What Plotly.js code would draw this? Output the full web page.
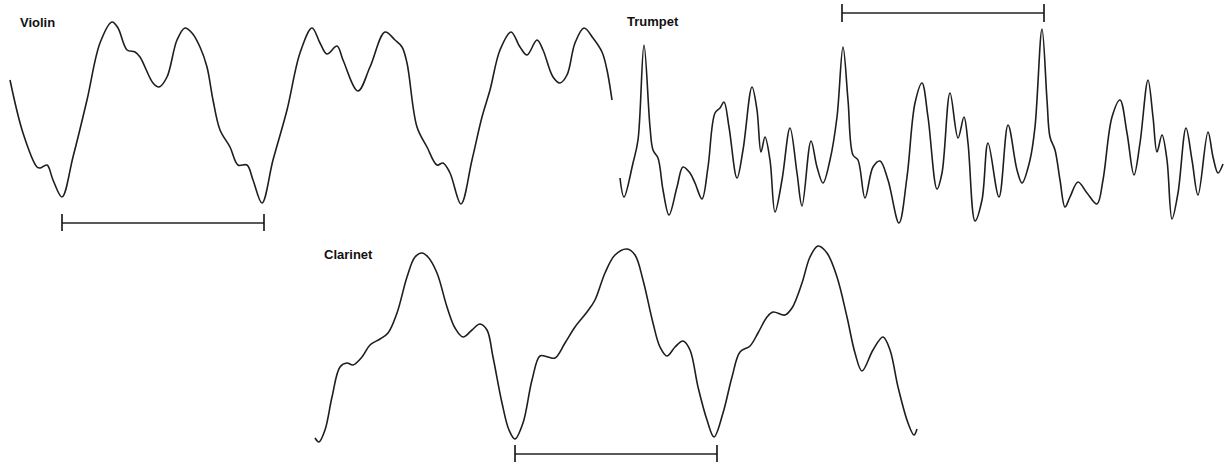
<!DOCTYPE html>
<html>
<head>
<meta charset="utf-8">
<script src="https://cdn.plot.ly/plotly-3.0.1.min.js"></script>
<style>html,body{margin:0;padding:0;background:#fff;}#chart{width:1229px;height:462px;}</style>
</head>
<body>
<div id="chart"></div>
<script>
// Violin waveform (time units, amplitude units)
const violinTime = [10,23,37,40,47,53,62,73,87,100,112,118,127,135,140,153,159,167,177,185,192,200,207,213,220,230,238,247,253,262,273,287,300,312,320,327,337,343,358,370,385,395,402,407,417,427,437,443,450,461,472,482,490,500,511,520,527,537,543,553,560,567,575,584,593,602,607,612];
const violinAmp  = [151,98,64,63,66,51,34,74,131,188,209,203,181,179,174,148,144,154,191,203,198,184,164,131,101,84,66,66,51,28,71,121,178,203,188,177,185,171,140,164,199,191,184,168,104,84,66,68,58,27,71,114,141,181,199,184,176,191,181,154,148,156,188,203,193,179,161,131];

// Trumpet waveform
const trumpetTime = [5,9,18,23,29,35,38,43,48,54,62,68,75,80,87,93,100,105,109,114,122,128,137,142,146,150,155,160,167,175,182,187,196,202,208,215,222,228,233,238,243,250,258,265,273,284,292,300,307,313,322,327,335,343,349,353,360,367,373,384,393,402,407,415,420,427,432,435,440,445,450,455,463,472,482,488,497,505,512,519,525,533,538,542,547,552,557,563,571,577,583,593,598,603,608];
const trumpetAmp  = [53,34,68,91,186,104,81,73,41,16,44,64,58,48,32,64,118,123,129,104,53,81,144,121,79,94,71,19,51,103,58,25,90,64,48,71,114,184,131,76,71,33,64,70,51,8,54,128,148,114,42,58,138,93,114,88,10,31,88,34,106,61,48,71,104,202,131,94,81,51,24,34,49,38,27,51,114,131,98,56,88,151,114,79,96,71,12,38,103,71,36,99,74,58,67];

// Clarinet waveform
const clarinetTime = [15,19,25,32,40,47,53,62,70,80,88,97,107,115,122,128,137,147,155,163,172,180,187,193,202,209,215,223,232,240,248,255,265,275,287,295,305,315,327,335,343,353,360,367,375,383,390,398,407,414,423,432,440,450,458,467,473,485,492,502,510,518,527,537,547,555,562,573,583,590,598,608,614,617];
const clarinetAmp  = [24,20,32,65,95,99,97,105,117,123,129,149,185,205,209,205,189,155,134,125,132,138,132,105,59,32,23,39,82,106,105,104,119,135,150,162,189,207,213,207,182,139,115,106,115,121,112,75,42,25,49,85,110,116,129,145,150,147,154,179,205,216,209,185,145,109,91,112,125,112,75,39,27,33];

// One period markers (start, end) and their amplitude level
const violinPeriod   = {t: [62, 264],  a: 8};
const trumpetPeriod  = {t: [842, 1044].map(v => v - 615), a: 218};
const clarinetPeriod = {t: [215, 417], a: 8};

const labels = ["Violin", "Trumpet", "Clarinet"];

const waveColor = "#1e1e1e";
const barColor = "#5a5a5a";

function wave(t, a, xa, ya) {
  return {x: t, y: a, xaxis: xa, yaxis: ya, type: "scatter", mode: "lines",
    line: {color: waveColor, width: 1.6, shape: "spline", smoothing: 1}, hoverinfo: "skip", showlegend: false};
}
function periodBar(p, xa, ya) {
  return [
    {x: p.t, y: [p.a, p.a], xaxis: xa, yaxis: ya, type: "scatter", mode: "lines",
      line: {color: barColor, width: 2}, hoverinfo: "skip", showlegend: false},
    {x: p.t, y: [p.a, p.a], xaxis: xa, yaxis: ya, type: "scatter", mode: "markers",
      marker: {symbol: "line-ns", size: 13, line: {color: "#111", width: 1.6}}, hoverinfo: "skip", showlegend: false}
  ];
}

const data = [
  wave(violinTime, violinAmp, "x", "y"),
  wave(trumpetTime, trumpetAmp, "x2", "y2"),
  wave(clarinetTime, clarinetAmp, "x3", "y3"),
  ...periodBar(violinPeriod, "x", "y"),
  ...periodBar(trumpetPeriod, "x2", "y2"),
  ...periodBar(clarinetPeriod, "x3", "y3")
];

const hidden = {showgrid: false, zeroline: false, showticklabels: false, showline: false, ticks: "", fixedrange: true};
const labelFont = {family: "Liberation Sans, Arial, sans-serif", size: 13, color: "#111", weight: "bold"};

const layout = {
  width: 1229, height: 462,
  margin: {l: 0, r: 0, t: 0, b: 0},
  paper_bgcolor: "#ffffff", plot_bgcolor: "rgba(0,0,0,0)",
  showlegend: false,
  xaxis:  Object.assign({}, hidden, {domain: [0, 615/1229], range: [0, 615]}),
  yaxis:  Object.assign({}, hidden, {domain: [0.5, 1], range: [0, 231]}),
  xaxis2: Object.assign({}, hidden, {domain: [615/1229, 1], range: [0, 614]}),
  yaxis2: Object.assign({}, hidden, {domain: [0.5, 1], range: [0, 231]}),
  xaxis3: Object.assign({}, hidden, {domain: [300/1229, 930/1229], range: [0, 630]}),
  yaxis3: Object.assign({}, hidden, {domain: [0, 0.5], range: [0, 231]}),
  annotations: [
    {text: "<b>" + labels[0] + "</b>", xref: "x", yref: "y", x: 18, y: 209, xanchor: "left", yanchor: "middle", showarrow: false, font: labelFont},
    {text: "<b>" + labels[1] + "</b>", xref: "x2", yref: "y2", x: 10, y: 210, xanchor: "left", yanchor: "middle", showarrow: false, font: labelFont},
    {text: "<b>" + labels[2] + "</b>", xref: "x3", yref: "y3", x: 22, y: 208, xanchor: "left", yanchor: "middle", showarrow: false, font: labelFont}
  ]
};

Plotly.newPlot("chart", data, layout, {staticPlot: true, displayModeBar: false});
</script>
</body>
</html>
